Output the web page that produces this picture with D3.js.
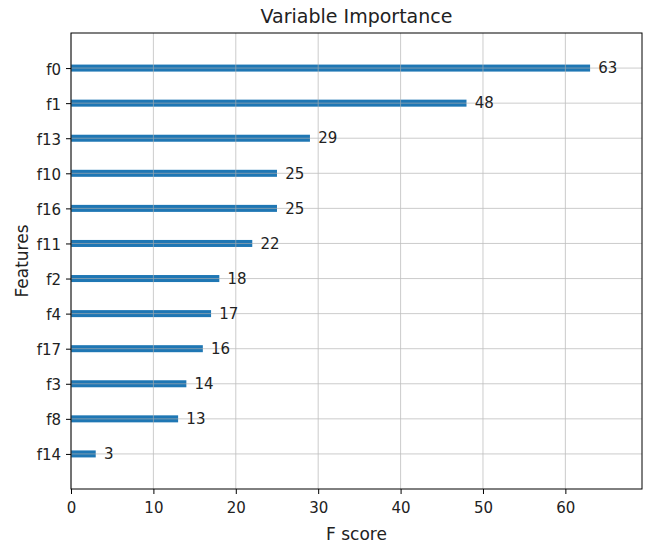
<!DOCTYPE html>
<html><head><meta charset="utf-8">
<script src="https://cdn.jsdelivr.net/npm/d3@7"></script>
<style>body{margin:0;background:#fff;} text{font-family:"DejaVu Sans",sans-serif;}</style>
</head><body>
<svg id="chart" width="651" height="543"></svg>
<script>
const features = ["f14","f8","f3","f17","f4","f2","f11","f16","f10","f13","f1","f0"];
const scores = [3,13,14,16,17,18,22,25,25,29,48,63];
const xTicks = [0,10,20,30,40,50,60];
const title = "Variable Importance";
const xLabel = "F score";
const yLabel = "Features";

const svg = d3.select("#chart");
const m = {left:71, right:9, top:33, bottom:54};
const W = 651, H = 543;
const x = d3.scaleLinear().domain([0, d3.max(scores)*1.1]).range([m.left, W-m.right]);
const y = d3.scaleLinear().domain([-1, features.length]).range([H-m.bottom, m.top]);
const barH = Math.abs(y(0.1)-y(-0.1));

// bars
svg.append("g").selectAll("rect").data(scores).join("rect")
  .attr("x", x(0)).attr("y", (d,i)=>y(i)-barH/2)
  .attr("width", d=>x(d)-x(0)).attr("height", barH)
  .attr("fill", "#1f77b4");

// grid (drawn on top)
const grid = svg.append("g").attr("stroke","#b0b0b0").attr("stroke-width",0.8).attr("opacity",0.8);
grid.selectAll("line.v").data(xTicks).join("line").attr("class","v")
  .attr("x1", d=>x(d)).attr("x2", d=>x(d)).attr("y1", m.top).attr("y2", H-m.bottom);
grid.selectAll("line.h").data(features.map((f,i)=>i)).join("line").attr("class","h")
  .attr("x1", m.left).attr("x2", W-m.right).attr("y1", d=>y(d)).attr("y2", d=>y(d));

// value labels
svg.append("g").selectAll("text").data(scores).join("text")
  .attr("x", d=>x(d+1)).attr("y", (d,i)=>y(i)).attr("dy","0.35em")
  .attr("font-size", 15).attr("fill","#222").text(d=>d);

// axes
const xAxis = d3.axisBottom(x).tickValues(xTicks).tickSize(5).tickPadding(8);
svg.append("g").attr("transform",`translate(0,${H-m.bottom})`).call(xAxis)
  .call(g=>g.select(".domain").remove())
  .call(g=>g.selectAll("text").attr("font-size",15).attr("fill","#222").style("font-family","DejaVu Sans"));
const yAxis = d3.axisLeft(y).tickValues(features.map((f,i)=>i)).tickFormat(i=>features[i]).tickSize(5).tickPadding(5);
svg.append("g").attr("transform",`translate(${m.left},0)`).call(yAxis)
  .call(g=>g.select(".domain").remove())
  .call(g=>g.selectAll("text").attr("font-size",15).attr("dy","0.4em").attr("fill","#222").style("font-family","DejaVu Sans"));

// frame
svg.append("rect").attr("x", m.left).attr("y", m.top).attr("width", W-m.right-m.left).attr("height", H-m.bottom-m.top)
  .attr("fill","none").attr("stroke","#000").attr("stroke-width",1);

svg.append("text").attr("x", (m.left + W-m.right)/2).attr("y", 23).attr("text-anchor","middle")
  .attr("font-size",19).attr("fill","#222").text(title);
svg.append("text").attr("x", (m.left + W-m.right)/2).attr("y", 540).attr("text-anchor","middle")
  .attr("font-size",17).attr("fill","#222").text(xLabel);
svg.append("text").attr("transform",`translate(28,${(m.top+H-m.bottom)/2}) rotate(-90)`).attr("text-anchor","middle")
  .attr("font-size",17).attr("fill","#222").text(yLabel);
</script>
</body></html>
